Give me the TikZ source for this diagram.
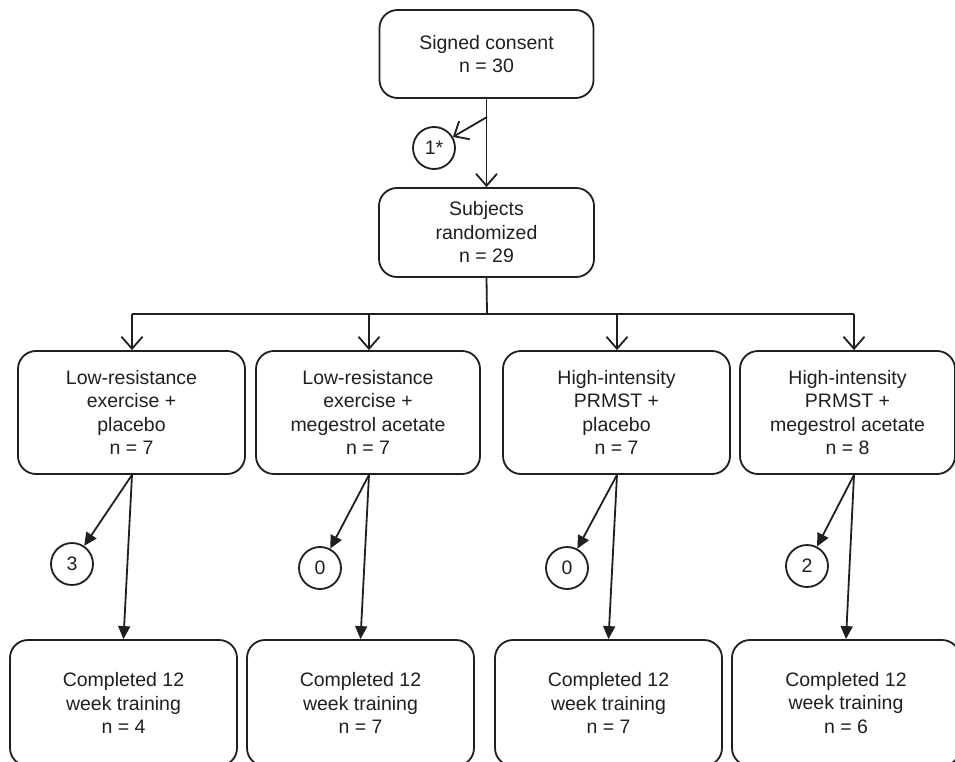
\documentclass[tikz,border=0pt]{standalone}
\usepackage{fontspec}
\setmainfont{Liberation Sans}
\usetikzlibrary{arrows.meta}
\begin{document}
\begin{tikzpicture}[x=1pt,y=-1pt,
  line width=1.8pt, color=black!88,
  box/.style={draw, rounded corners=18pt, align=center, inner sep=0pt,
    font=\fontsize{19.5}{23.5}\selectfont},
  circ/.style={draw, circle, minimum size=42pt, inner sep=0pt,
    font=\fontsize{19.5}{22}\selectfont},
  openarr/.style={-{Straight Barb[length=12pt,width=21pt,line width=1.8pt]}},
  fillarr/.style={-{Triangle[length=13pt,width=12pt]}}]
\useasboundingbox (0,0) rectangle (955,762);
\clip (0,0) rectangle (955,762);

% top
\node[box, minimum width=214pt, minimum height=88pt] (top) at (486.5,54) {Signed consent\\n = 30};
\node[box, minimum width=215pt, minimum height=89pt] (subj) at (486.5,232.5) {Subjects\\randomized\\n = 29};
\node[circ] (c0) at (434,148) {1*};
\coordinate (br) at (487,117);

% groups
\node[box, minimum width=227pt, minimum height=123pt] (g1) at (131.5,412.5) {Low-resistance\\exercise +\\placebo\\n = 7};
\node[box, minimum width=224pt, minimum height=123pt] (g2) at (368,412.5) {Low-resistance\\exercise +\\megestrol acetate\\n = 7};
\node[box, minimum width=227pt, minimum height=123pt] (g3) at (616.5,412.5) {High-intensity\\PRMST +\\placebo\\n = 7};
\node[box, minimum width=215pt, minimum height=123pt] (g4) at (847.5,412.5) {High-intensity\\PRMST +\\megestrol acetate\\n = 8};

% hub
\coordinate (hub) at (487,314);
\coordinate (a1) at (132,314);
\coordinate (a2) at (369,314);
\coordinate (a3) at (617,314);
\coordinate (a4) at (854,314);

% dropout circles
\node[circ] (c1) at (72,564) {3};
\node[circ] (c2) at (320,568) {0};
\node[circ] (c3) at (567,568) {0};
\node[circ] (c4) at (807,566) {2};

% completed
\node[box, minimum width=227pt, minimum height=126pt] (d1) at (123.5,703) {Completed 12\\week training\\n = 4};
\node[box, minimum width=227pt, minimum height=126pt] (d2) at (360.5,703) {Completed 12\\week training\\n = 7};
\node[box, minimum width=227pt, minimum height=126pt] (d3) at (608.5,703) {Completed 12\\week training\\n = 7};
\node[box, minimum width=228pt, minimum height=126pt] (d4) at (846,703) {Completed 12\\week training\\n = 6};

% connectors
\draw[openarr] (top.south) -- (subj.north);
\draw[openarr] (br) -- (c0);
\draw (subj.south) -- (hub);
\draw (a1) -- (a4);
\foreach \i in {1,2,3,4} {
  \draw[openarr] (a\i) -- (a\i |- g\i.north);
  \coordinate (s\i) at (a\i |- g\i.south);
  \draw[fillarr] (s\i) -- (c\i);
  \draw[fillarr] (s\i) -- (d\i.north);
}
\end{tikzpicture}
\end{document}
